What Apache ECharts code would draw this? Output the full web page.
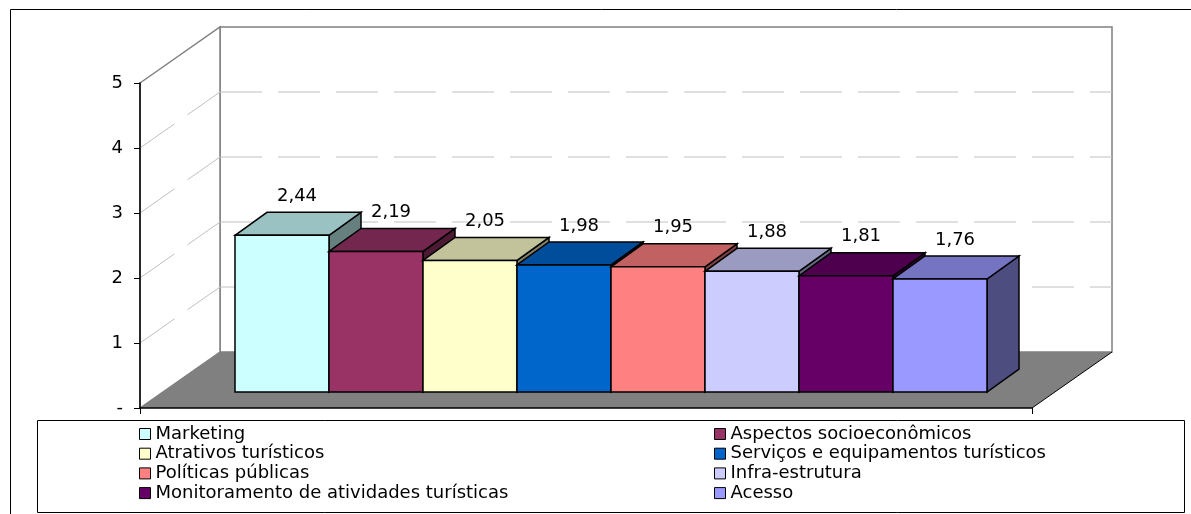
<!DOCTYPE html>
<html>
<head>
<meta charset="utf-8">
<title>Avaliação dos componentes</title>
<style>
  html, body { margin: 0; padding: 0; background: #fff; }
  #main { width: 1191px; height: 514px; }
</style>
</head>
<body>
<div id="main"></div>
<script src="https://cdn.jsdelivr.net/npm/echarts@6/dist/echarts.min.js"></script>
<script>
var categories = ['Marketing', 'Aspectos socioeconômicos', 'Atrativos turísticos',
  'Serviços e equipamentos turísticos', 'Políticas públicas', 'Infra-estrutura',
  'Monitoramento de atividades turísticas', 'Acesso'];
var values = [2.44, 2.19, 2.05, 1.98, 1.95, 1.88, 1.81, 1.76];
var colors = ['#CCFFFF', '#993366', '#FFFFCC', '#0066CC', '#FF8080', '#CCCCFF', '#660066', '#9999FF'];
var yTicks = [0, 1, 2, 3, 4, 5];

var FONT = '"DejaVu Sans", sans-serif';
var barDepth = [32, -23];
var wallDepth = [80, -56];

function shade(hex, k) {
  var n = parseInt(hex.slice(1), 16);
  var r = Math.round(((n >> 16) & 255) * k);
  var g = Math.round(((n >> 8) & 255) * k);
  var b = Math.round((n & 255) * k);
  return 'rgb(' + r + ',' + g + ',' + b + ')';
}

function fmt(v) {
  return v.toFixed(2).replace('.', ',');
}

// one 3D box per series
function barItem(params, api) {
  var x = api.value(0), v = api.value(1);
  var t = api.coord([x, v]), b = api.coord([x, 0]);
  var w = api.size([1, 0])[0];
  var l = t[0] - w / 2, r = l + w;
  var dx = barDepth[0], dy = barDepth[1];
  var c = colors[x];
  return {
    type: 'group',
    children: [
      { type: 'polygon',
        shape: { points: [[r, t[1]], [r + dx, t[1] + dy], [r + dx, b[1] + dy], [r, b[1]]] },
        style: { fill: shade(c, 0.5), stroke: '#000', lineWidth: 1.5 } },
      { type: 'polygon',
        shape: { points: [[l, t[1]], [l + dx, t[1] + dy], [r + dx, t[1] + dy], [r, t[1]]] },
        style: { fill: shade(c, 0.76), stroke: '#000', lineWidth: 1.5 } },
      { type: 'rect',
        shape: { x: l, y: t[1], width: w, height: b[1] - t[1] },
        style: { fill: c, stroke: '#000', lineWidth: 1.5 } },
      { type: 'text',
        style: { text: fmt(v), x: (l + r) / 2 + 15, y: t[1] + dy - 7,
          align: 'center', verticalAlign: 'bottom',
          fontSize: 18, fontFamily: FONT, fill: '#000' } }
    ]
  };
}

// walls and floor of the 3D box
function wallItem(params, api) {
  var lo = api.coord([0, yTicks[0]]), hi = api.coord([0, yTicks[yTicks.length - 1]]);
  var w = api.size([1, 0])[0];
  var x0 = lo[0] - w / 2, x1 = x0 + w, y0 = lo[1], y1 = hi[1];
  var dx = wallDepth[0], dy = wallDepth[1];
  return {
    type: 'group',
    children: [
      { type: 'polygon',
        shape: { points: [[x0 + dx, y1 + dy], [x1 + dx, y1 + dy], [x1 + dx, y0 + dy], [x0 + dx, y0 + dy]] },
        style: { fill: '#fff', stroke: '#808080', lineWidth: 1.5 } },
      { type: 'polygon',
        shape: { points: [[x0, y1], [x0 + dx, y1 + dy], [x0 + dx, y0 + dy], [x0, y0]] },
        style: { fill: '#fff', stroke: '#808080', lineWidth: 1.5 } },
      { type: 'polygon',
        shape: { points: [[x0, y0], [x1, y0], [x1 + dx, y0 + dy], [x0 + dx, y0 + dy]] },
        style: { fill: '#808080' } },
      { type: 'line',
        shape: { x1: x1, y1: y0, x2: x1 + dx, y2: y0 + dy },
        style: { stroke: '#000', lineWidth: 1 } }
    ]
  };
}

function gridItem(params, api) {
  var v = api.value(1);
  if (v <= yTicks[0] || v >= yTicks[yTicks.length - 1]) return null;
  var p = api.coord([0, v]);
  var w = api.size([1, 0])[0];
  var x0 = p[0] - w / 2, x1 = x0 + w;
  var dx = wallDepth[0], dy = wallDepth[1];
  var st = { stroke: '#C0C0C0', lineWidth: 1, lineDash: [42, 16] };
  return {
    type: 'group',
    children: [
      { type: 'line', shape: { x1: x0, y1: p[1], x2: x0 + dx, y2: p[1] + dy }, style: st },
      { type: 'line', shape: { x1: x0 + dx, y1: p[1] + dy, x2: x1 + dx, y2: p[1] + dy }, style: st }
    ]
  };
}

var series = [
  { type: 'custom', name: 'walls', xAxisIndex: 1, yAxisIndex: 1, z: 1, silent: true,
    renderItem: wallItem, data: [[0, 0]] },
  { type: 'custom', name: 'gridlines', xAxisIndex: 1, yAxisIndex: 1, z: 2, silent: true,
    renderItem: gridItem, data: yTicks.map(function (v) { return [0, v]; }) }
];
categories.forEach(function (name, i) {
  series.push({
    type: 'custom', name: name, xAxisIndex: 0, yAxisIndex: 0, z: 20 + i,
    itemStyle: { color: colors[i] },
    renderItem: barItem,
    data: [[i, values[i]]]
  });
});

var legendText = { fontSize: 18, fontFamily: FONT, color: '#000' };
var legendBase = {
  orient: 'vertical', itemWidth: 11, itemHeight: 11, itemGap: 1.7, icon: 'rect',
  selectedMode: false, textStyle: legendText,
  itemStyle: { borderColor: '#000', borderWidth: 1 }
};

var chart = echarts.init(document.getElementById('main'));
chart.setOption({
  backgroundColor: '#fff',
  animation: false,
  grid: [
    { left: 235, top: 71, width: 752, height: 321 },
    { left: 140, top: 83, width: 892, height: 325 }
  ],
  xAxis: [
    { type: 'category', gridIndex: 0, data: categories, show: false },
    { type: 'category', gridIndex: 1, data: [''], z: 10,
      axisLine: { lineStyle: { color: '#000', width: 1.5 } },
      axisTick: { show: true, length: 6, lineStyle: { color: '#000' } },
      axisLabel: { show: false } }
  ],
  yAxis: [
    { type: 'value', gridIndex: 0, min: 0, max: 5, show: false },
    { type: 'value', gridIndex: 1, min: 0, max: 5, interval: 1, z: 10,
      axisLine: { show: true, lineStyle: { color: '#000', width: 1.5 } },
      axisTick: { show: true, length: 6, lineStyle: { color: '#000' } },
      splitLine: { show: false },
      axisLabel: { margin: 17, fontSize: 18, fontFamily: FONT, color: '#000',
        formatter: function (v) { return v === 0 ? '-' : String(v); } } }
  ],
  legend: [
    Object.assign({}, legendBase, { left: 134, top: 420,
      data: categories.filter(function (c, i) { return i % 2 === 0; }) }),
    Object.assign({}, legendBase, { left: 709, top: 420,
      data: categories.filter(function (c, i) { return i % 2 === 1; }) })
  ],
  graphic: [
    { type: 'rect', shape: { x: 10.5, y: 9.5, width: 1200, height: 520 },
      style: { fill: null, stroke: '#000', lineWidth: 1 }, z: -1 },
    { type: 'rect', shape: { x: 37.5, y: 420.5, width: 1147, height: 92 },
      style: { fill: null, stroke: '#000', lineWidth: 1 }, z: -1 }
  ],
  series: series
});
</script>
</body>
</html>
